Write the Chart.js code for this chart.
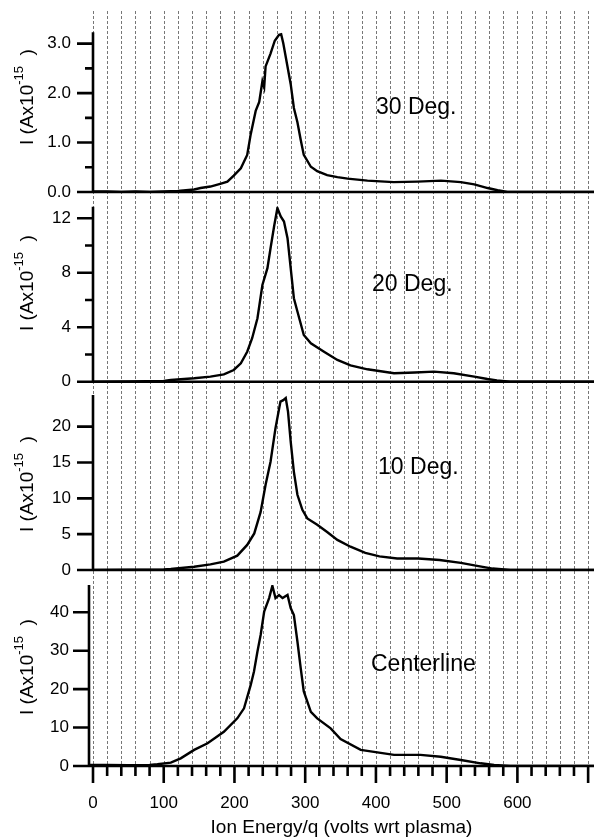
<!DOCTYPE html>
<html><head><meta charset="utf-8">
<script src="https://cdn.jsdelivr.net/npm/chart.js@4.4.0/dist/chart.umd.min.js"></script>
<style>
html,body{margin:0;padding:0;background:#fff;}
#wrap{position:relative;width:594px;height:840px;overflow:hidden;}
canvas{position:absolute;left:0;top:0;}
</style></head><body>
<div id="wrap">
<canvas id="p1" width="594" height="840"></canvas>
<canvas id="p2" width="594" height="840"></canvas>
<canvas id="p3" width="594" height="840"></canvas>
<canvas id="p4" width="594" height="840"></canvas>
</div>
<script>
// ---------------- data ----------------
const energy30  = [0, 20, 40, 60, 80, 100, 120, 143, 152, 166, 181, 190, 199, 209, 218, 223, 230, 235, 239.5, 242, 244, 251, 257, 263, 266, 269, 272, 279.5, 284, 289, 293.7, 298, 308, 317, 331, 345.5, 360, 388, 425, 459, 492, 520, 539, 558, 572, 586, 620, 709];
const current30 = [0.01, 0.01, 0.0, 0.01, 0.0, 0.01, 0.02, 0.05, 0.08, 0.11, 0.17, 0.21, 0.33, 0.48, 0.75, 1.17, 1.64, 1.82, 2.24, 2.12, 2.54, 2.80, 3.06, 3.18, 3.19, 3.01, 2.77, 2.18, 1.70, 1.41, 1.05, 0.75, 0.51, 0.42, 0.34, 0.30, 0.27, 0.23, 0.20, 0.21, 0.23, 0.20, 0.155, 0.08, 0.035, 0.0, 0.0, 0.0];

const energy20  = [0, 50, 100, 110, 143, 166, 185, 199, 209, 218, 225, 232.5, 239.5, 246.6, 251, 256, 260.7, 265.4, 270, 275, 279.5, 284, 289, 298, 308, 326.6, 345.5, 364, 388, 425.6, 455, 482, 510, 539, 557.6, 571, 590, 709];
const current20 = [0, 0.02, 0.05, 0.12, 0.25, 0.37, 0.54, 0.86, 1.35, 2.2, 3.19, 4.66, 7.1, 8.34, 9.8, 11.4, 12.75, 12.13, 11.76, 10.54, 8.34, 6.13, 5.15, 3.43, 2.82, 2.2, 1.6, 1.2, 0.91, 0.62, 0.68, 0.74, 0.62, 0.37, 0.2, 0.1, 0, 0];

const energy10  = [0, 50, 100, 110, 143, 166, 185, 204, 218, 228, 237, 244, 251, 258, 265, 269, 272.5, 275.7, 279.5, 284, 289, 296, 303, 317, 331, 345.5, 364, 385, 405, 430, 460, 490, 520, 545, 565, 590, 709];
const current10 = [0, 0.03, 0.08, 0.14, 0.46, 0.79, 1.16, 2.0, 3.5, 5.1, 8.1, 11.9, 15.1, 19.8, 23.5, 23.7, 24.0, 22.1, 17.9, 13.7, 10.5, 8.4, 7.2, 6.3, 5.3, 4.2, 3.25, 2.4, 1.9, 1.6, 1.6, 1.4, 1.0, 0.55, 0.2, 0, 0];

const energyC   = [-5, 20, 50, 80, 91, 110, 124, 143, 162, 185, 204, 213.5, 223, 227.6, 232.5, 237, 242, 249, 253.6, 258, 263, 268, 275, 279.5, 284, 289, 293.7, 298, 308, 317, 336, 350, 378.5, 425.6, 463, 491.6, 520, 548, 567, 590, 709];
const currentC  = [0.3, 0.3, 0.2, 0.3, 0.44, 0.86, 2.0, 4.2, 5.9, 8.9, 12.4, 15.0, 21.1, 24.6, 29.8, 34.1, 40.2, 43.7, 46.9, 43.7, 44.5, 43.7, 44.5, 41.1, 39.3, 32.4, 25.4, 19.4, 14.1, 12.4, 9.8, 7.0, 4.2, 2.9, 2.9, 2.4, 1.56, 0.7, 0.26, 0, 0];

const xTickValues   = [0, 100, 200, 300, 400, 500, 600];
const xMinorValues  = [0,20,40,60,80,100,120,140,160,180,200,220,240,260,280,300,320,340,360,380,400,420,440,460,480,500,520,540,560,580,600,620,640,660,680,700];
const yTicks30 = [0, 1, 2, 3];      const yMinor30 = [0.5, 1.5, 2.5];
const yTicks20 = [0, 4, 8, 12];     const yMinor20 = [2, 6, 10];
const yTicks10 = [0, 5, 10, 15, 20]; const yMinor10 = [];
const yTicksC  = [0, 10, 20, 30, 40]; const yMinorC = [];
const panelLabels = ['30 Deg.', '20 Deg.', '10 Deg.', 'Centerline'];
const X_TITLE = 'Ion Energy/q (volts wrt plasma)';

// ---------------- drawing ----------------
const FONT = '"Liberation Sans", Arial, Helvetica, sans-serif';
Chart.defaults.font.family = FONT;
const X_MAX = 708.3;

const axesPlugin = {
  id: 'panelAxes',
  beforeDatasetsDraw(chart, args, o) {
    if (!o.grid) return;
    const {ctx, scales: {x}} = chart;
    ctx.save();
    ctx.strokeStyle = '#777';
    ctx.lineWidth = 1;
    ctx.setLineDash([3, 2]);
    for (const v of xMinorValues) {
      const px = Math.round(x.getPixelForValue(v)) + 0.5;
      ctx.beginPath(); ctx.moveTo(px, o.gridTop); ctx.lineTo(px, o.gridBottom); ctx.stroke();
    }
    ctx.restore();
  },
  afterDatasetsDraw(chart, args, o) {
    const {ctx, chartArea: a, scales: {x, y}} = chart;
    ctx.save();
    ctx.strokeStyle = '#000';
    ctx.lineWidth = 2.6;
    ctx.lineCap = 'butt';
    const y0 = y.getPixelForValue(0);
    ctx.beginPath();
    ctx.moveTo(a.left, a.top); ctx.lineTo(a.left, y0 + 1.3);
    ctx.moveTo(a.left - 16, y0); ctx.lineTo(chart.width, y0);
    for (const v of o.major) { const p = y.getPixelForValue(v); ctx.moveTo(a.left - 16, p); ctx.lineTo(a.left, p); }
    for (const v of o.minor) { const p = y.getPixelForValue(v); ctx.moveTo(a.left - 8, p); ctx.lineTo(a.left, p); }
    if (o.showX) {
      for (const v of xMinorValues) {
        const p = x.getPixelForValue(v);
        const len = (v % 100 === 0) ? 17 : 10;
        ctx.moveTo(p, y0); ctx.lineTo(p, y0 + len);
      }
    }
    ctx.stroke();
    // y-axis title with superscript
    ctx.fillStyle = '#000';
    ctx.translate(o.titleX, o.titleY);
    ctx.rotate(-Math.PI / 2);
    ctx.textBaseline = 'alphabetic';
    const mainF = '19px ' + FONT, supF = '13px ' + FONT;
    ctx.font = mainF; const w1 = ctx.measureText('I (Ax10').width;
    ctx.font = supF;  const w2 = ctx.measureText('-15').width;
    ctx.font = mainF; const w3 = ctx.measureText('  )').width;
    let sx = -(w1 + w2 + w3) / 2;
    ctx.font = mainF; ctx.fillText('I (Ax10', sx, 0); sx += w1;
    ctx.font = supF;  ctx.fillText('-15', sx, -10); sx += w2;
    ctx.font = mainF; ctx.fillText('  )', sx, 0);
    ctx.restore();
    // panel label
    ctx.save();
    ctx.fillStyle = '#000';
    ctx.font = '23px ' + FONT;
    ctx.textBaseline = 'alphabetic';
    ctx.fillText(o.label, x.getPixelForValue(o.labelX), y.getPixelForValue(o.labelY));
    ctx.restore();
  }
};

function panel(id, xs, ys, cfg) {
  const pts = xs.map((v, i) => ({x: v, y: ys[i]}));
  return new Chart(document.getElementById(id), {
    type: 'line',
    data: {datasets: [{data: pts, borderColor: '#000', borderWidth: 2.4, pointRadius: 0, tension: 0, fill: false}]},
    options: {
      responsive: false, animation: false, devicePixelRatio: 1,
      layout: {padding: {left: 0, right: 0, top: cfg.top, bottom: cfg.showX ? 0 : 840 - cfg.bottom}},
      plugins: {legend: {display: false}, tooltip: {enabled: false}, panelAxes: cfg},
      scales: {
        x: {
          type: 'linear', min: cfg.xMin, max: X_MAX, display: cfg.showX,
          grid: {display: false, drawTicks: false}, border: {display: false},
          afterBuildTicks: s => { s.ticks = xTickValues.map(v => ({value: v})); },
          afterFit: s => { s.height = cfg.showX ? 840 - cfg.bottom : 0; },
          ticks: {font: {size: 17}, color: '#000', padding: 27, maxRotation: 0, autoSkip: false},
          title: {display: true, text: X_TITLE, font: {size: 19}, color: '#000', padding: {top: 0, bottom: 1}}
        },
        y: {
          type: 'linear', min: 0, max: cfg.yMax,
          grid: {display: false, drawTicks: false}, border: {display: false},
          afterBuildTicks: s => { s.ticks = cfg.major.map(v => ({value: v})); },
          afterFit: s => { s.width = cfg.left; },
          ticks: {font: {size: 17}, color: '#000', padding: cfg.labelPad,
                  callback: v => cfg.decimals ? Number(v).toFixed(cfg.decimals) : String(v)}
        }
      }
    },
    plugins: [axesPlugin]
  });
}

panel('p1', energy30, current30, {top: 11, bottom: 192, left: 93, xMin: 0, yMax: 3.232, major: yTicks30, minor: yMinor30,
  decimals: 1, labelPad: 22, showX: false, grid: true, gridTop: 11, gridBottom: 766,
  titleX: 33, titleY: 97, label: panelLabels[0], labelX: 400, labelY: 1.57});
panel('p2', energy20, current20, {top: 206.7, bottom: 381.7, left: 93, xMin: 0, yMax: 12.85, major: yTicks20, minor: yMinor20,
  decimals: 0, labelPad: 22, showX: false, grid: false,
  titleX: 33, titleY: 283, label: panelLabels[1], labelX: 394.5, labelY: 6.66});
panel('p3', energy10, current10, {top: 395, bottom: 570, left: 93, xMin: 0, yMax: 24.42, major: yTicks10, minor: yMinor10,
  decimals: 0, labelPad: 22, showX: false, grid: false,
  titleX: 33, titleY: 484, label: panelLabels[2], labelX: 403, labelY: 13.4});
panel('p4', energyC, currentC, {top: 585, bottom: 766, left: 89, xMin: -5.655, yMax: 47.1, major: yTicksC, minor: yMinorC,
  decimals: 0, labelPad: 20, showX: true, grid: false,
  titleX: 33, titleY: 667, label: panelLabels[3], labelX: 393, labelY: 24.7});
</script>
</body></html>
